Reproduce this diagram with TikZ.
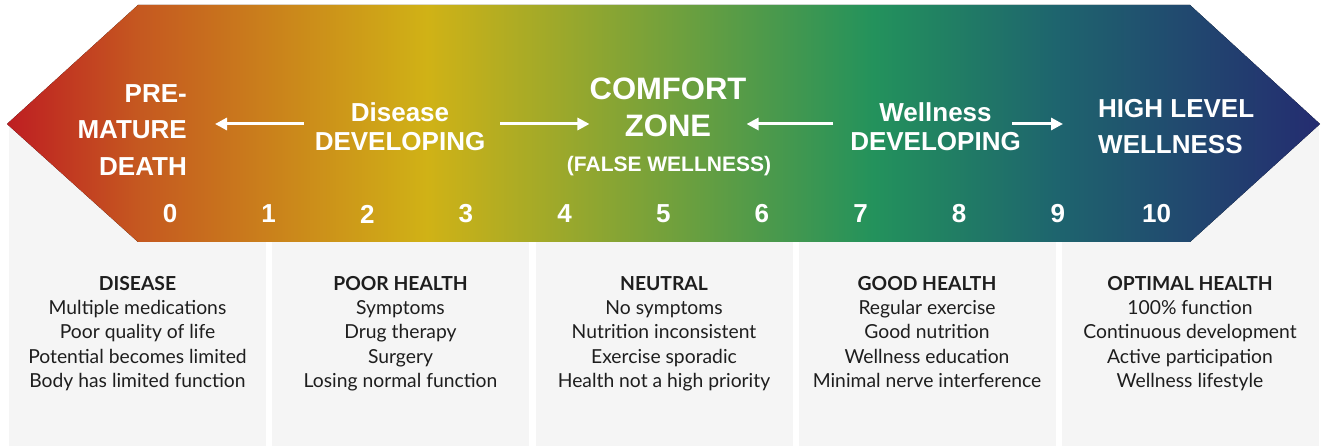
\documentclass[tikz,border=0pt]{standalone}
\usepackage{fontspec}
\setmainfont{Lato}
\newfontfamily\bandfont{Liberation Sans}
\usetikzlibrary{arrows.meta}

\definecolor{tipred}{RGB}{190,30,34}
\definecolor{rust}{RGB}{197,88,32}
\definecolor{mustard}{RGB}{208,178,22}
\definecolor{leaf}{RGB}{35,146,92}
\definecolor{deepteal}{RGB}{30,100,110}
\definecolor{tipnavy}{RGB}{36,44,112}
\definecolor{panelgrey}{RGB}{245,245,245}
\definecolor{notetext}{RGB}{30,30,30}

% colour scale along the band (25bp..75bp is the path's width)
\pgfdeclarehorizontalshading{healthscale}{100bp}{color(0bp)=(tipred); color(25bp)=(tipred);
  color(30bp)=(rust); color(41bp)=(mustard); color(58bp)=(leaf); color(65bp)=(deepteal);
  color(75bp)=(tipnavy); color(100bp)=(tipnavy)}

\tikzset{
  band/.style={text=white, inner sep=0pt, font=\bandfont\bfseries\fontsize{26}{#1}\selectfont},
  band/.default=36.5,
  score/.style={text=white, inner sep=0pt, font=\bandfont\bfseries\fontsize{26}{26}\selectfont},
  flow/.style={white, line width=3pt, -{Triangle[length=12pt,width=12pt]}},
  panelnote/.style={align=center, anchor=north, text=notetext, inner sep=0pt, font=\fontsize{19.3}{24.3}\selectfont},
}

\begin{document}
\begin{tikzpicture}[x=1pt, y=1pt]
    \useasboundingbox (0,0) rectangle (1322,446);

    % Grey panels under the band
    \foreach \i in {0,...,4} {
        \fill[panelgrey] ({9+263.25*\i},0) rectangle ++(257,322);
    }

    % Arrow band
    \fill[shading=healthscale] (7,322) -- (138,441) -- (1190,441) -- (1320,322)
        -- (1190,204) -- (138,204) -- cycle;
    \coordinate (spine) at (0,322);

    % Band labels
    \node[band, align=right, anchor=east] (death) at (187,316) {PRE-\\MATURE\\DEATH};
    \node[band=29, align=center] (disdev) at (400,319.5) {Disease\\DEVELOPING};
    \node[band, align=center, font=\bandfont\bfseries\fontsize{31}{37}\selectfont] (comfort) at (668,338.5) {COMFORT\\ZONE};
    \node[band, font=\bandfont\bfseries\fontsize{21}{22}\selectfont] (falsewell) at (669,280) {(FALSE WELLNESS)};
    \node[band=29, align=center] (welldev) at (935.5,319.5) {Wellness\\DEVELOPING};
    \node[band, align=left, anchor=west] (highwell) at (1098,319.5) {HIGH LEVEL\\WELLNESS};

    % Arrows between the labels
    \draw[flow, shorten <=11pt, shorten >=28pt] (disdev.west |- spine) -- (death.east |- spine);
    \draw[flow, shorten <=15pt] (disdev.east |- spine) -- (comfort.west |- spine);
    \draw[flow, shorten <=17pt] (welldev.west |- spine) -- (comfort.east |- spine);
    \draw[flow, shorten <=-9pt, shorten >=35pt] (welldev.east |- spine) -- (highwell.west |- spine);

    % Scale 0..10
    \foreach \n in {0,...,10} {
        \node[score] (s\n) at ({170+98.65*\n},232) {\n};
    }

    % Panel notes
    \node[panelnote] (disease) at (137.5,170) {\textbf{DISEASE}\\Multiple medications\\Poor quality of life\\Potential becomes limited\\Body has limited function};
    \node[panelnote] (poor) at (400.5,170) {\textbf{POOR HEALTH}\\Symptoms\\Drug therapy\\Surgery\\Losing normal function};
    \node[panelnote] (neutral) at (664,170) {\textbf{NEUTRAL}\\No symptoms\\Nutrition inconsistent\\Exercise sporadic\\Health not a high priority};
    \node[panelnote] (good) at (927,170) {\textbf{GOOD HEALTH}\\Regular exercise\\Good nutrition\\Wellness education\\Minimal nerve interference};
    \node[panelnote] (optimal) at (1190,170) {\textbf{OPTIMAL HEALTH}\\100\% function\\Continuous development\\Active participation\\Wellness lifestyle};

\end{tikzpicture}
\end{document}
